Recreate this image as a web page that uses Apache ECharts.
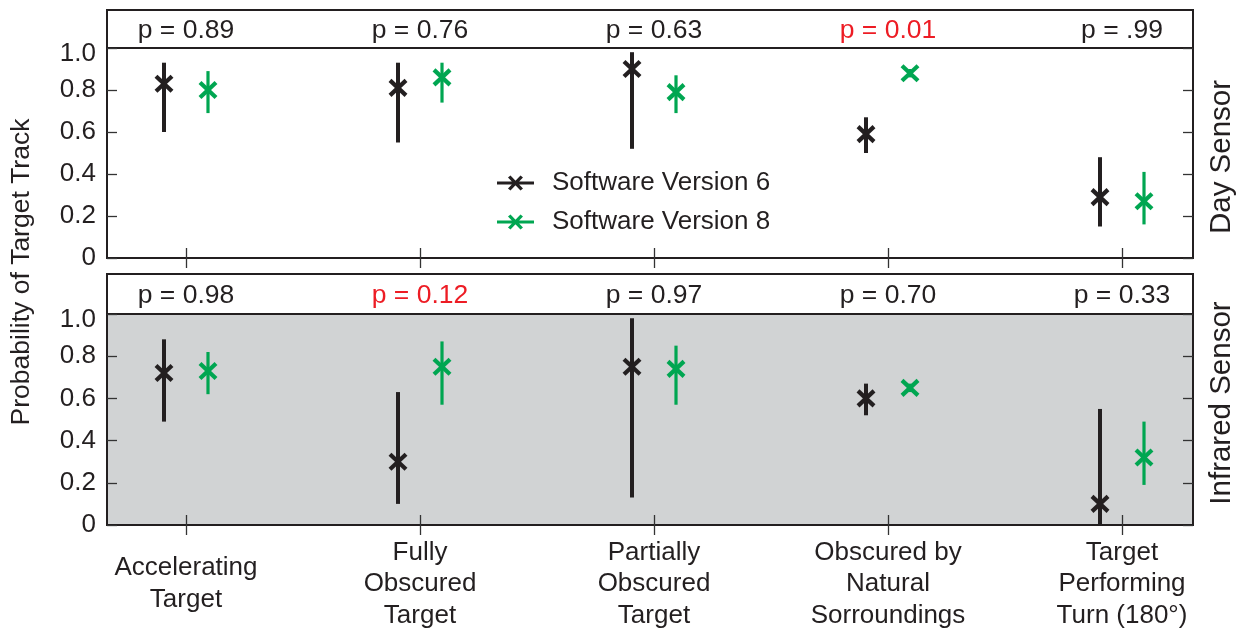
<!DOCTYPE html>
<html>
<head>
<meta charset="utf-8">
<script src="https://cdn.jsdelivr.net/npm/echarts@6/dist/echarts.min.js"></script>
<style>html,body{margin:0;padding:0;background:#fff;}#c{width:1245px;height:632px;}</style>
</head>
<body>
<div id="c"></div>
<script>
// ---- data ----
const categories = ['Accelerating\nTarget', 'Fully\nObscured\nTarget', 'Partially\nObscured\nTarget', 'Obscured by\nNatural\nSorroundings', 'Target\nPerforming\nTurn (180°)'];
const yTicks = [0, 0.2, 0.4, 0.6, 0.8, 1.0];
const pDay = ['0.89', '0.76', '0.63', '0.01', '.99'];
const pIR  = ['0.98', '0.12', '0.97', '0.70', '0.33'];

const dayV6Mean = [0.83, 0.81, 0.90, 0.59, 0.29];
const dayV6Low  = [0.60, 0.55, 0.52, 0.50, 0.15];
const dayV6High = [0.93, 0.93, 0.98, 0.67, 0.48];
const dayV8Mean = [0.80, 0.86, 0.79, 0.88, 0.27];
const dayV8Low  = [0.69, 0.74, 0.69, 0.86, 0.16];
const dayV8High = [0.89, 0.93, 0.87, 0.90, 0.41];

const irV6Mean = [0.72, 0.30, 0.75, 0.60, 0.10];
const irV6Low  = [0.49, 0.10, 0.13, 0.52, 0.00];
const irV6High = [0.88, 0.63, 0.98, 0.67, 0.55];
const irV8Mean = [0.73, 0.75, 0.74, 0.65, 0.32];
const irV8Low  = [0.62, 0.57, 0.57, 0.63, 0.19];
const irV8High = [0.82, 0.87, 0.85, 0.67, 0.49];

const seriesNames = ['Software Version 6', 'Software Version 8'];

// ---- styling ----
const FONT = "'Liberation Sans', Arial, Helvetica, sans-serif";
const FS = 26;
const BLACK = '#231f20';
const GREEN = '#00a651';
const RED = '#ed1c24';
const GRAY = '#d1d3d4';
const catPos = categories.map((c, i) => i + 1);
const XMIN = 0.6624, XMAX = 5.3034;

function build(mean, low, high) {
  return mean.map((m, i) => [catPos[i], m, low[i], high[i]]);
}

function makeRender(color, dodge, barW) {
  return function (params, api) {
    const x = api.value(0), y = api.value(1), lo = api.value(2), hi = api.value(3);
    const c = api.coord([x, y]);
    const pl = api.coord([x, lo]);
    const ph = api.coord([x, hi]);
    const cx = c[0] + dodge, cy = c[1];
    const sx = 8, sy = 7.5;
    return {
      type: 'group',
      children: [
        { type: 'line', shape: { x1: cx, y1: ph[1], x2: cx, y2: pl[1] }, style: { stroke: color, lineWidth: barW } },
        { type: 'line', shape: { x1: cx - sx, y1: cy - sy, x2: cx + sx, y2: cy + sy }, style: { stroke: color, lineWidth: 4.2 } },
        { type: 'line', shape: { x1: cx - sx, y1: cy + sy, x2: cx + sx, y2: cy - sy }, style: { stroke: color, lineWidth: 4.2 } }
      ]
    };
  };
}

const iconPath = 'path://M0 6.5 L37 6.5 L37 9.5 L0 9.5 Z ' +
  'M11 2.5 L13.5 0.5 L26 13.5 L23.5 15.5 Z ' +
  'M23.5 0.5 L26 2.5 L13.5 15.5 L11 13.5 Z ' +
  'M50 0 L50 0.01 L49.99 0 Z M50 16 L50 16.01 L49.99 16 Z';

const gridBase = { left: 107, right: 52, show: true, borderColor: BLACK, borderWidth: 2, backgroundColor: 'transparent' };

function plotXAxis(gridIndex, position, labels) {
  return {
    type: 'value', gridIndex: gridIndex, position: position, min: XMIN, max: XMAX,
    axisLine: { show: false }, splitLine: { show: false },
    axisTick: { show: true, inside: true, length: 10, customValues: catPos, lineStyle: { color: '#333', width: 1.3 } },
    axisLabel: labels ? {
      show: true, customValues: catPos,
      formatter: v => categories[Math.round(v) - 1] || '',
      fontSize: FS, fontFamily: FONT, color: BLACK, lineHeight: 31.5,
      margin: 59, verticalAlign: 'middle', align: 'center'
    } : { show: false }
  };
}
function plotYAxis(gridIndex, position, labels) {
  return {
    type: 'value', gridIndex: gridIndex, position: position, min: 0, max: 1, interval: 0.2,
    axisLine: { show: false }, splitLine: { show: false },
    axisTick: { show: true, inside: true, length: 10, lineStyle: { color: '#333', width: 1.3 } },
    axisLabel: labels ? {
      show: true, margin: 11, fontSize: FS, fontFamily: FONT, color: BLACK,
      formatter: v => {
        const t = yTicks.find(k => Math.abs(k - v) < 1e-6);
        if (t === undefined) return '';
        if (t === 0) return '0';
        if (Math.abs(t - 1) < 1e-6) return '{top|' + t.toFixed(1) + '}';
        return t.toFixed(1);
      },
      rich: { top: { fontSize: FS, fontFamily: FONT, color: BLACK, padding: [12, 0, 0, 0] } }
    } : { show: false }
  };
}
function headerXAxis(gridIndex) {
  return { type: 'value', gridIndex: gridIndex, min: XMIN, max: XMAX, show: false };
}
function headerYAxis(gridIndex) {
  return { type: 'value', gridIndex: gridIndex, min: 0, max: 1, show: false };
}

function pSeries(xi, yi, pArr) {
  return {
    type: 'scatter', xAxisIndex: xi, yAxisIndex: yi, symbolSize: 0, silent: true,
    itemStyle: { opacity: 1 },
    data: pArr.map((p, i) => ({
      value: [catPos[i], 0.45],
      label: { color: parseFloat(p) < 0.15 ? RED : BLACK }
    })),
    label: {
      show: true, position: 'inside', fontSize: 26.5, fontFamily: FONT, opacity: 1,
      formatter: params => 'p = ' + pArr[params.dataIndex]
    }
  };
}

const chart = echarts.init(document.getElementById('c'), null, { renderer: 'canvas' });
chart.setOption({
  animation: false,
  backgroundColor: '#fff',
  grid: [
    Object.assign({}, gridBase, { top: 10, height: 38 }),
    Object.assign({}, gridBase, { top: 48, height: 210 }),
    Object.assign({}, gridBase, { top: 274, height: 40 }),
    Object.assign({}, gridBase, { top: 314, height: 211, backgroundColor: GRAY })
  ],
  xAxis: [
    headerXAxis(0),
    plotXAxis(1, 'bottom', false),
    plotXAxis(1, 'top', false),
    headerXAxis(2),
    plotXAxis(3, 'bottom', true),
    plotXAxis(3, 'top', false)
  ],
  yAxis: [
    headerYAxis(0),
    plotYAxis(1, 'left', true),
    plotYAxis(1, 'right', false),
    headerYAxis(2),
    plotYAxis(3, 'left', true),
    plotYAxis(3, 'right', false)
  ],
  legend: {
    orient: 'vertical', left: 497, top: 169, padding: 0,
    itemWidth: 50, itemHeight: 16, itemGap: 11,
    textStyle: { fontSize: FS, fontFamily: FONT, color: BLACK, lineHeight: 28 },
    data: [
      { name: seriesNames[0], icon: iconPath, itemStyle: { color: BLACK } },
      { name: seriesNames[1], icon: iconPath, itemStyle: { color: GREEN } }
    ]
  },
  graphic: [
    { type: 'text', x: 22, y: 272, rotation: Math.PI / 2,
      style: { text: 'Probability of Target Track', fontSize: 26.5, fontFamily: FONT, fill: BLACK, align: 'center', verticalAlign: 'middle' } },
    { type: 'text', x: 1222, y: 157, rotation: Math.PI / 2,
      style: { text: 'Day Sensor', fontSize: 29.5, fontFamily: FONT, fill: BLACK, align: 'center', verticalAlign: 'middle' } },
    { type: 'text', x: 1222, y: 403, rotation: Math.PI / 2,
      style: { text: 'Infrared Sensor', fontSize: 29.5, fontFamily: FONT, fill: BLACK, align: 'center', verticalAlign: 'middle' } }
  ],
  series: [
    pSeries(0, 0, pDay),
    pSeries(3, 3, pIR),
    { type: 'custom', name: seriesNames[0], xAxisIndex: 1, yAxisIndex: 1, clip: false,
      itemStyle: { color: BLACK }, renderItem: makeRender(BLACK, -22, 4),
      encode: { x: 0, y: 1 }, data: build(dayV6Mean, dayV6Low, dayV6High) },
    { type: 'custom', name: seriesNames[1], xAxisIndex: 1, yAxisIndex: 1, clip: false,
      itemStyle: { color: GREEN }, renderItem: makeRender(GREEN, 22, 3.2),
      encode: { x: 0, y: 1 }, data: build(dayV8Mean, dayV8Low, dayV8High) },
    { type: 'custom', name: seriesNames[0], xAxisIndex: 4, yAxisIndex: 4, clip: false,
      itemStyle: { color: BLACK }, renderItem: makeRender(BLACK, -22, 4),
      encode: { x: 0, y: 1 }, data: build(irV6Mean, irV6Low, irV6High) },
    { type: 'custom', name: seriesNames[1], xAxisIndex: 4, yAxisIndex: 4, clip: false,
      itemStyle: { color: GREEN }, renderItem: makeRender(GREEN, 22, 3.2),
      encode: { x: 0, y: 1 }, data: build(irV8Mean, irV8Low, irV8High) }
  ]
});
</script>
</body>
</html>
